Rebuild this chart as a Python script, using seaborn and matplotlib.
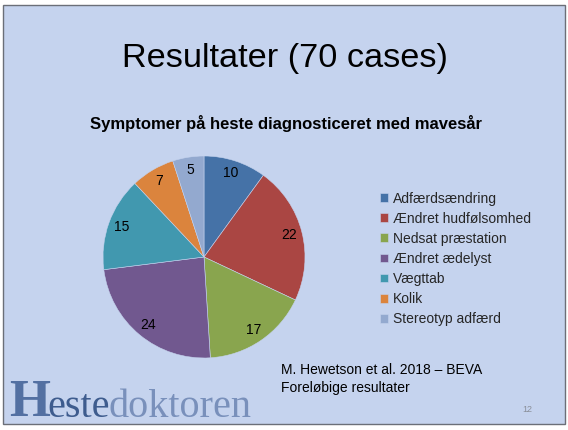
import matplotlib
matplotlib.use("Agg")
import matplotlib.pyplot as plt
import seaborn as sns
from matplotlib.patches import Rectangle

categories = ["Adfærdsændring", "Ændret hudfølsomhed", "Nedsat præstation",
              "Ændret ædelyst", "Vægttab", "Kolik", "Stereotyp adfærd"]
values = [10, 22, 17, 24, 15, 7, 5]
colors = ["#4572A7", "#AA4643", "#89A54E", "#71588F", "#4198AF", "#DB843D", "#93A9CF"]

title = "Resultater (70 cases)"
subtitle = "Symptomer på heste diagnosticeret med mavesår"
source = "M. Hewetson et al. 2018 – BEVA\nForeløbige resultater"

sns.set_theme(style="white")
plt.rcParams['font.family'] = ['Liberation Sans', 'DejaVu Sans']

W, H = 568, 430
fig = plt.figure(figsize=(W / 100, H / 100), dpi=100)
fig.patch.set_facecolor("white")

# slide background
bg = Rectangle((3 / W, 1 - 424 / H), (565 - 3) / W, (424 - 5) / H, transform=fig.transFigure,
               facecolor="#c5d3ee", edgecolor="#6b6f78", linewidth=1.0, zorder=-10)
fig.patches.append(bg)

# pie
cx, cy, r = 204, 257, 101
ax = fig.add_axes([(cx - r) / W, (H - cy - r) / H, 2 * r / W, 2 * r / H])
ax.set_zorder(1)
ax.set_facecolor("none")
total = sum(values)
wedges, texts, autotexts = ax.pie(
    values, colors=colors, startangle=90, counterclock=False,
    autopct=lambda p: f"{round(p * total / 100)}", pctdistance=0.87,
    wedgeprops=dict(linewidth=0.4, edgecolor="#c5d3ee"),
    textprops=dict(fontsize=10, color="black"))
ax.set_xlim(-1, 1)
ax.set_ylim(-1, 1)
ax.set_aspect("equal")
ax.axis("off")

# legend
fig.legend(wedges, categories, loc="upper left", bbox_to_anchor=(380 / W, 1 - 191.5 / H),
           frameon=False, fontsize=10, handlelength=0.6, handleheight=0.6,
           handletextpad=0.35, labelspacing=0.44, borderaxespad=0, borderpad=0)

# titles
fig.text(285 / W, 1 - 59 / H, title, ha="center", va="center", fontsize=24.7, color="black")
fig.text(286 / W, 1 - 124 / H, subtitle, ha="center", va="center", fontsize=12,
         fontweight="bold", color="black")

# source
fig.text(281 / W, 1 - 379 / H, source, ha="left", va="center", fontsize=10,
         color="black", linespacing=1.35)
fig.text(527 / W, 1 - 409 / H, "12", ha="center", va="center", fontsize=6.5, color="#8a8f99")

# logo
fig.text(9 / W, 1 - 416 / H, "H", ha="left", va="baseline", fontsize=38, fontweight="bold",
         family="Liberation Serif", color="#3f5f95", alpha=0.85)
fig.text(47 / W, 1 - 417 / H, "este", ha="left", va="baseline", fontsize=29,
         family="Liberation Serif", color="#3e5c8e")
fig.text(109 / W, 1 - 417 / H, "doktoren", ha="left", va="baseline", fontsize=29,
         family="Liberation Serif", color="#7990bb")

fig.savefig("out.png", dpi=100, facecolor=fig.get_facecolor())
